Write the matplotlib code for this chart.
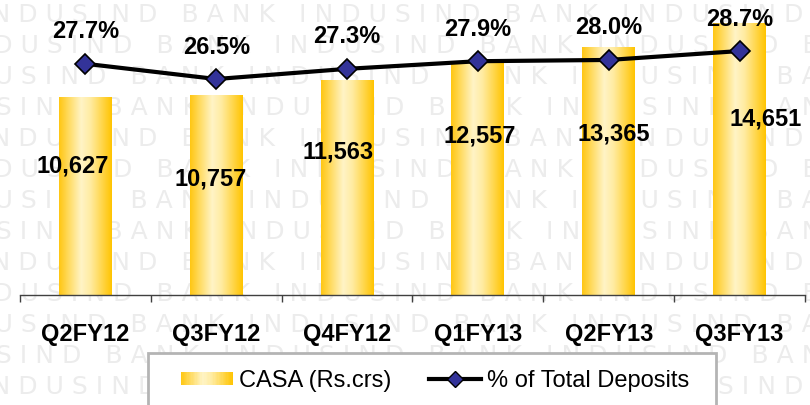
import matplotlib
matplotlib.use("Agg")
import matplotlib.pyplot as plt
import numpy as np
from matplotlib.colors import LinearSegmentedColormap
from matplotlib.patches import Rectangle
from matplotlib.lines import Line2D
from matplotlib.legend_handler import HandlerBase

# ---- data ----
categories = ["Q2FY12", "Q3FY12", "Q4FY12", "Q1FY13", "Q2FY13", "Q3FY13"]
casa = [10627, 10757, 11563, 12557, 13365, 14651]
pct_deposits = [27.7, 26.5, 27.3, 27.9, 28.0, 28.7]

# ---- layout of value labels (positions only) ----
label_y = [6950, 6250, 7700, 8570, 8680, 9490]
label_dx = [-0.095, -0.046, -0.069, 0.015, 0.038, 0.20]

plt.rcParams['font.family'] = ['Liberation Sans', 'DejaVu Sans']

W, H = 810, 405
fig = plt.figure(figsize=(8.1, 4.05), dpi=100)
fig.patch.set_facecolor('white')

# watermark
wm_unit = "I N D U S I N D   B A N K   "
for k in range(14):
    y = 1 - (15 + 31 * k) / H
    s = wm_unit * 6
    fig.text(-0.03 - 0.031 * (k % 4), y, s, fontsize=18, color='#ececec',
             va='center', ha='left', zorder=-5, family='DejaVu Sans')

ax = fig.add_axes([20 / W, 1 - 295 / H, 785 / W, 295 / H])
ax.set_facecolor('none')
x = np.arange(len(categories))
bw = 0.405
bars = ax.bar(x, casa, width=bw, color='none', edgecolor='none', zorder=2)

cmap = LinearSegmentedColormap.from_list(
    'gold', [(0.0, '#FFC712'), (0.42, '#FFF4C6'), (0.6, '#FFEBA0'), (1.0, '#FFC400')])
grad = np.linspace(0, 1, 256).reshape(1, -1)
for b in bars:
    ax.imshow(grad, cmap=cmap, aspect='auto', zorder=2,
              extent=[b.get_x(), b.get_x() + b.get_width(), 0, b.get_height()])

ax.set_xlim(-0.5, len(categories) - 0.5)
ax.set_ylim(0, 15900)

for i, v in enumerate(casa):
    ax.text(x[i] + label_dx[i], label_y[i], f"{v:,}", ha='center', va='center',
            fontsize=17, fontweight='bold', color='black', zorder=5)

for s in ['top', 'left', 'right']:
    ax.spines[s].set_visible(False)
ax.spines['bottom'].set_color('#404040')
ax.spines['bottom'].set_linewidth(1)
ax.set_yticks([])
ax.set_xticks(x)
ax.set_xticklabels(categories, fontsize=17, fontweight='bold')
ax.tick_params(axis='x', which='major', length=0, pad=20)
ax.set_xticks(np.arange(-0.5, len(categories)), minor=True)
ax.tick_params(axis='x', which='minor', length=5, width=1, color='#404040', direction='out')

ax2 = ax.twinx()
ax2.set_facecolor('none')
ax2.set_ylim(9.53, 32.71)
ax2.plot(x, pct_deposits, color='black', lw=3, marker='D', markersize=10,
         markerfacecolor='#333399', markeredgecolor='black', markeredgewidth=1.2, zorder=4)
for i, v in enumerate(pct_deposits):
    ax2.annotate(f"{v:.1f}%", (x[i], v), xytext=(0, 23), textcoords='offset points',
                 ha='center', va='center', fontsize=17, fontweight='bold', color='black')
ax2.axis('off')

# legend frame
frame = Rectangle((148 / W, 1 - 420 / H), (716 - 148) / W, (420 - 353) / H,
                  transform=fig.transFigure, facecolor='white', edgecolor='#b4b4b4',
                  lw=2, zorder=1)
fig.add_artist(frame)


class GradientHandler(HandlerBase):
    def create_artists(self, legend, orig_handle, xdescent, ydescent, width, height,
                       fontsize, trans):
        n = 40
        arts = []
        h = height * 0.8
        y0 = -ydescent + (height - h) / 2
        for j in range(n):
            r = Rectangle((-xdescent + width * j / n, y0), width / n * 1.05, h,
                          facecolor=cmap((j + 0.5) / n), edgecolor='none', transform=trans)
            arts.append(r)
        return arts


bar_handle = Rectangle((0, 0), 1, 1)
line_handle = Line2D([], [], color='black', lw=3, marker='D', markersize=8,
                     markerfacecolor='#333399', markeredgecolor='black')
leg = fig.legend([bar_handle, line_handle], ["CASA (Rs.crs)", "% of Total Deposits"],
                 handler_map={Rectangle: GradientHandler()},
                 loc='center left', bbox_to_anchor=(181 / W, 1 - 381 / H),
                 ncol=2, frameon=False, fontsize=17, borderpad=0, borderaxespad=0,
                 handlelength=2.2, handletextpad=0.25, columnspacing=1.6)
leg.set_zorder(2)

fig.savefig('out.png', dpi=100)
